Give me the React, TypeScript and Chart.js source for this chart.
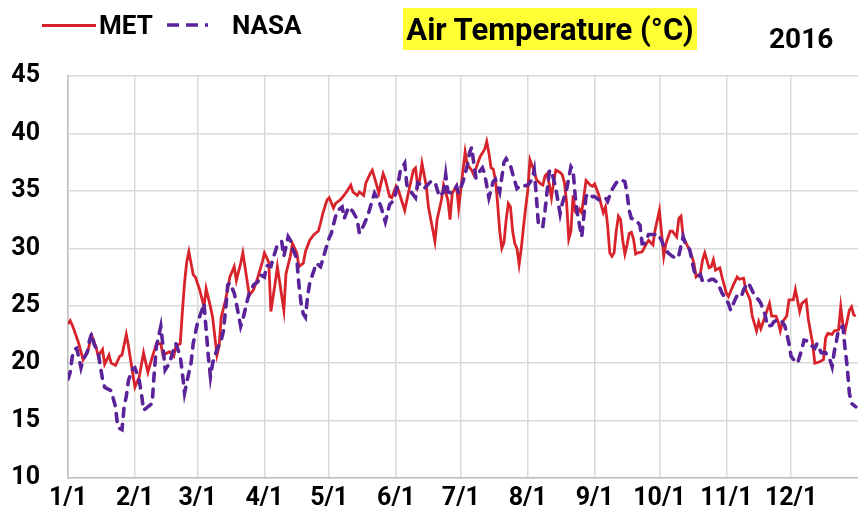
import React, { useEffect, useRef } from "react";
import { Chart, registerables } from "chart.js";

Chart.register(...registerables);

// Month boundaries (day-of-year index, 2016 is a leap year) and their labels
const monthStartDays = [0, 31, 60, 91, 121, 152, 182, 213, 244, 274, 305, 335];
const monthLabels = ["1/1", "2/1", "3/1", "4/1", "5/1", "6/1", "7/1", "8/1", "9/1", "10/1", "11/1", "12/1"];
const yTickValues = [10, 15, 20, 25, 30, 35, 40, 45];

// MET series (day index, °C)
const metDays = [
  0, 1, 2, 3, 5, 7, 9, 10, 11, 13,
  14, 16, 17, 19, 20, 22, 24, 25, 27, 28,
  30, 31, 33, 35, 37, 39, 41, 43, 44, 47,
  49, 50, 52, 53, 54, 55, 56, 58, 59, 61,
  63, 64, 66, 67, 69, 70, 71, 73, 75, 77,
  78, 80, 81, 82, 84, 86, 88, 90, 91, 93,
  94, 96, 97, 100, 101, 103, 104, 106, 107, 109,
  110, 112, 114, 116, 117, 118, 120, 121, 123, 124,
  126, 127, 129, 131, 132, 134, 135, 137, 138, 140,
  141, 143, 144, 146, 147, 149, 150, 152, 153, 155,
  156, 158, 160, 161, 162, 163, 164, 166, 167, 169,
  170, 171, 173, 174, 176, 177, 178, 180, 181, 183,
  184, 185, 187, 188, 190, 191, 193, 194, 195, 196,
  197, 198, 199, 200, 201, 202, 203, 204, 205, 206,
  207, 208, 209, 210, 211, 212, 213, 214, 215, 216,
  217, 218, 219, 220, 221, 222, 223, 224, 225, 226,
  227, 228, 229, 230, 231, 232, 233, 234, 235, 236,
  237, 238, 239, 240, 241, 242, 243, 244, 245, 246,
  247, 248, 249, 250, 251, 252, 253, 254, 255, 256,
  257, 258, 259, 260, 261, 262, 263, 264, 266, 268,
  269, 271, 272, 274, 275, 276, 277, 279, 280, 282,
  283, 284, 285, 287, 288, 290, 291, 293, 294, 295,
  297, 298, 299, 300, 302, 303, 305, 306, 308, 310,
  311, 313, 314, 316, 317, 319, 320, 321, 323, 325,
  326, 328, 329, 330, 331, 333, 334, 336, 337, 339,
  340, 342, 343, 345, 346, 348, 350, 351, 352, 354,
  355, 357, 358, 359, 360, 362, 363, 364, 365,
];
const metTemps = [
  23.4, 23.7, 23.3, 22.8, 21.7, 20.3, 20.9, 21.7, 22.4, 21.4,
  20.6, 21.2, 19.9, 20.7, 20.0, 19.8, 20.6, 20.7, 22.5, 21.5,
  19.1, 17.9, 18.8, 20.9, 19.2, 20.5, 21.7, 21.7, 20.7, 21.0,
  20.6, 21.5, 21.7, 24.5, 27.0, 28.8, 29.7, 27.7, 27.5, 26.4,
  24.9, 26.5, 24.9, 24.0, 20.7, 21.5, 24.0, 25.5, 27.5, 28.4,
  27.2, 28.7, 29.6, 28.4, 25.9, 26.4, 27.5, 28.8, 29.6, 28.8,
  24.5, 27.0, 28.4, 24.6, 27.8, 29.3, 30.4, 29.6, 28.4, 28.7,
  29.7, 30.7, 31.2, 31.5, 32.2, 33.0, 34.2, 34.4, 33.5, 33.9,
  34.2, 34.4, 34.9, 35.5, 34.9, 34.6, 34.9, 34.6, 35.7, 36.5,
  36.8, 35.5, 34.8, 36.5, 36.0, 34.5, 34.4, 35.4, 35.1, 33.9,
  33.3, 35.1, 36.8, 37.0, 35.4, 36.0, 37.4, 35.4, 33.6, 31.6,
  30.6, 32.5, 34.2, 35.5, 34.2, 32.5, 34.8, 35.4, 33.5, 36.8,
  38.4, 37.3, 36.8, 36.4, 37.5, 38.0, 38.6, 39.3, 38.3, 37.0,
  36.9, 36.0, 34.0, 31.5, 30.0, 30.5, 32.5, 33.9, 33.6, 31.5,
  30.4, 30.0, 28.6, 30.0, 31.8, 33.5, 35.0, 37.7, 37.2, 36.7,
  36.0, 35.8, 35.6, 35.5, 36.3, 36.5, 35.5, 34.4, 35.8, 36.8,
  36.7, 36.6, 36.4, 35.7, 34.0, 30.8, 31.5, 34.6, 33.2, 33.0,
  33.4, 33.1, 34.5, 35.9, 35.7, 35.5, 35.4, 35.6, 35.1, 34.6,
  33.8, 33.1, 33.6, 32.0, 29.6, 29.3, 29.6, 31.5, 32.8, 32.5,
  30.7, 29.5, 30.3, 31.3, 31.4, 30.8, 29.5, 29.6, 29.7, 30.4,
  30.7, 30.3, 31.6, 33.3, 31.3, 29.3, 30.4, 31.5, 31.5, 31.0,
  32.6, 32.8, 31.0, 30.2, 29.9, 28.7, 27.5, 27.8, 29.0, 29.6,
  28.3, 28.4, 29.0, 28.1, 28.3, 27.5, 26.1, 25.8, 26.7, 27.5,
  27.3, 27.4, 26.4, 25.5, 24.1, 22.8, 23.6, 23.0, 24.1, 25.2,
  24.1, 24.1, 23.6, 22.8, 23.6, 24.1, 25.5, 25.5, 26.4, 24.5,
  25.2, 25.5, 23.8, 21.7, 20.0, 20.1, 20.3, 22.2, 22.6, 22.5,
  22.8, 22.9, 24.9, 23.3, 22.8, 24.6, 24.9, 24.2, 24.1,
];

// NASA series (day index, °C)
const nasaDays = [
  0, 1, 2, 3, 4, 5, 6, 7, 9, 10,
  11, 12, 14, 15, 16, 17, 19, 20, 22, 23,
  24, 25, 26, 27, 28, 30, 31, 33, 34, 35,
  37, 39, 40, 41, 43, 44, 45, 47, 49, 50,
  52, 53, 54, 55, 57, 58, 59, 60, 62, 63,
  64, 65, 66, 67, 69, 71, 72, 73, 74, 75,
  77, 78, 80, 81, 83, 84, 86, 88, 89, 91,
  92, 94, 95, 97, 99, 100, 102, 103, 104, 106,
  107, 108, 109, 110, 111, 112, 114, 115, 117, 118,
  120, 121, 122, 124, 125, 127, 128, 130, 132, 134,
  135, 137, 139, 141, 142, 144, 145, 147, 149, 151,
  153, 154, 156, 157, 159, 161, 162, 164, 165, 168,
  170, 172, 174, 175, 176, 178, 180, 181, 183, 185,
  186, 187, 188, 189, 190, 192, 193, 195, 197, 198,
  200, 202, 203, 205, 206, 208, 210, 211, 213, 215,
  216, 217, 218, 220, 221, 222, 223, 224, 226, 228,
  229, 231, 232, 233, 234, 235, 236, 238, 239, 240,
  241, 243, 244, 246, 249, 250, 252, 254, 256, 258,
  259, 260, 261, 263, 265, 266, 267, 269, 270, 272,
  273, 275, 276, 278, 280, 282, 283, 285, 286, 288,
  290, 291, 293, 294, 296, 298, 299, 301, 303, 304,
  306, 307, 309, 310, 312, 313, 315, 316, 318, 320,
  321, 323, 324, 326, 327, 329, 330, 332, 333, 334,
  335, 337, 338, 340, 341, 343, 344, 346, 347, 349,
  351, 353, 354, 355, 356, 357, 359, 360, 361, 362,
  363, 365,
];
const nasaTemps = [
  18.6, 19.2, 20.6, 21.2, 21.3, 20.5, 19.6, 20.3, 21.0, 22.0,
  22.6, 21.7, 20.9, 19.7, 18.6, 17.9, 17.7, 17.6, 16.2, 14.5,
  14.3, 14.2, 16.2, 17.1, 18.5, 19.5, 19.6, 18.5, 17.4, 15.9,
  16.2, 16.5, 19.3, 21.5, 23.2, 21.5, 19.4, 20.0, 21.2, 21.7,
  20.6, 19.1, 17.4, 18.3, 20.0, 21.7, 22.6, 23.5, 24.6, 25.2,
  22.9, 20.6, 18.8, 20.0, 21.2, 22.0, 22.8, 24.6, 26.8, 27.0,
  26.1, 25.2, 23.2, 23.8, 25.4, 26.1, 26.8, 27.1, 27.7, 27.5,
  28.5, 28.4, 29.1, 30.3, 30.6, 29.3, 31.0, 30.7, 30.0, 29.1,
  26.8, 25.2, 24.3, 24.0, 25.8, 27.0, 28.1, 28.7, 28.4, 29.0,
  30.3, 30.9, 31.3, 32.8, 33.3, 33.6, 32.6, 33.6, 33.2, 32.5,
  31.3, 32.0, 32.9, 34.2, 34.8, 34.1, 33.6, 32.3, 33.8, 34.2,
  35.7, 36.8, 37.4, 35.5, 34.9, 34.4, 35.7, 35.5, 35.2, 35.8,
  35.8, 34.5, 34.9, 36.4, 34.9, 34.8, 35.4, 34.8, 35.8, 37.2,
  38.3, 38.8, 37.4, 36.1, 36.5, 37.0, 36.5, 34.4, 35.8, 36.0,
  34.9, 37.5, 37.8, 37.2, 36.5, 35.2, 35.5, 35.4, 35.5, 36.0,
  36.8, 34.5, 31.9, 31.9, 33.3, 35.0, 36.7, 36.8, 35.2, 33.0,
  33.9, 35.1, 36.1, 37.1, 36.8, 34.5, 33.0, 31.0, 32.8, 34.5,
  34.8, 34.5, 34.5, 34.2, 34.4, 34.1, 35.1, 35.7, 36.0, 35.8,
  34.8, 33.3, 32.6, 32.5, 32.0, 30.4, 30.4, 31.2, 31.2, 31.2,
  31.3, 30.7, 30.2, 29.6, 29.3, 29.1, 29.4, 31.0, 30.4, 29.9,
  28.1, 27.5, 27.7, 27.1, 27.1, 27.3, 27.3, 27.0, 26.1, 25.8,
  25.2, 24.6, 25.5, 25.9, 25.8, 26.4, 27.0, 26.7, 25.9, 25.5,
  25.2, 24.2, 23.2, 23.3, 23.6, 23.8, 23.8, 23.3, 22.6, 21.7,
  20.6, 20.1, 20.0, 21.2, 22.0, 21.9, 21.6, 21.3, 21.7, 20.9,
  20.9, 20.3, 19.7, 21.0, 21.9, 23.0, 23.2, 21.3, 19.7, 17.4,
  16.5, 16.2,
];

const MET_COLOR = "#d8232a";
const NASA_COLOR = "#5a2399";
const FONT = "Roboto, 'Noto Sans', sans-serif";

export default function App() {
  const canvasRef = useRef<HTMLCanvasElement | null>(null);

  useEffect(() => {
    const canvas = canvasRef.current;
    if (!canvas) return;
    const tickFont = { family: FONT, size: 25, weight: "bold" as const };
    const chart = new Chart(canvas, {
      type: "line",
      data: {
        datasets: [
          {
            label: "MET",
            data: metDays.map((d, i) => ({ x: d, y: metTemps[i] })),
            borderColor: MET_COLOR,
            backgroundColor: MET_COLOR,
            borderWidth: 2.8,
            pointRadius: 0,
            tension: 0,
            order: 1,
          },
          {
            label: "NASA",
            data: nasaDays.map((d, i) => ({ x: d, y: nasaTemps[i] })),
            borderColor: NASA_COLOR,
            backgroundColor: NASA_COLOR,
            borderWidth: 3.6,
            borderDash: [8, 8],
            borderCapStyle: "round",
            pointRadius: 0,
            tension: 0,
            order: 0,
          },
        ],
      },
      options: {
        animation: false,
        responsive: false,
        maintainAspectRatio: false,
        layout: { padding: { left: 12, top: 76, right: 0, bottom: 0 } },
        plugins: {
          legend: { display: false },
          tooltip: { enabled: false },
          title: { display: false },
        },
        scales: {
          x: {
            type: "linear",
            min: 0,
            max: 366,
            afterBuildTicks: (scale: any) => {
              scale.ticks = monthStartDays.map((v) => ({ value: v }));
            },
            afterFit: (scale: any) => {
              scale.height = 54;
            },
            ticks: {
              autoSkip: false,
              maxRotation: 0,
              minRotation: 0,
              padding: 6,
              color: "#000",
              font: tickFont,
              callback: (value: any) => {
                const i = monthStartDays.indexOf(Number(value));
                return i >= 0 ? monthLabels[i] : "";
              },
            },
            grid: { color: "#d9d9d9", lineWidth: 1.5, drawTicks: false },
            border: { color: "#bfbfbf", width: 1.5 },
          },
          y: {
            type: "linear",
            min: 10,
            max: 45,
            afterBuildTicks: (scale: any) => {
              scale.ticks = yTickValues.map((v) => ({ value: v }));
            },
            afterFit: (scale: any) => {
              scale.width = 56;
            },
            ticks: {
              padding: 28,
              color: "#000",
              font: tickFont,
            },
            grid: { color: "#d9d9d9", lineWidth: 1.5, drawTicks: false },
            border: { color: "#bfbfbf", width: 1.5 },
          },
        },
      },
    });
    return () => chart.destroy();
  }, []);

  const textBase: React.CSSProperties = {
    position: "absolute",
    fontFamily: FONT,
    fontWeight: 700,
    color: "#000",
    whiteSpace: "nowrap",
  };

  return (
    <div
      style={{
        position: "fixed",
        left: 0,
        top: 0,
        width: 858,
        height: 532,
        background: "#fff",
        overflow: "hidden",
      }}
    >
      <canvas ref={canvasRef} width={858} height={532} style={{ position: "absolute", left: 0, top: 0 }} />
      <div style={{ position: "absolute", left: 42, top: 24, width: 54, height: 2.5, background: MET_COLOR }} />
      <div style={{ ...textBase, left: 99, top: 9, fontSize: 26, lineHeight: "32px" }}>MET</div>
      <svg style={{ position: "absolute", left: 165, top: 19 }} width={64} height={12}>
        <line x1={2} y1={6} x2={62} y2={6} stroke={NASA_COLOR} strokeWidth={3.5} strokeDasharray="12 7 12 7 3 40" />
      </svg>
      <div style={{ ...textBase, left: 232, top: 9, fontSize: 26, lineHeight: "32px" }}>NASA</div>
      <div
        style={{
          position: "absolute",
          left: 403,
          top: 8,
          width: 294,
          height: 42,
          background: "#ffff33",
          display: "flex",
          alignItems: "center",
          justifyContent: "center",
        }}
      >
        <span style={{ fontFamily: FONT, fontWeight: 700, fontSize: 31, color: "#000", whiteSpace: "nowrap" }}>
          Air Temperature (°C)
        </span>
      </div>
      <div style={{ ...textBase, left: 769, top: 22, fontSize: 28, lineHeight: "34px" }}>2016</div>
    </div>
  );
}
